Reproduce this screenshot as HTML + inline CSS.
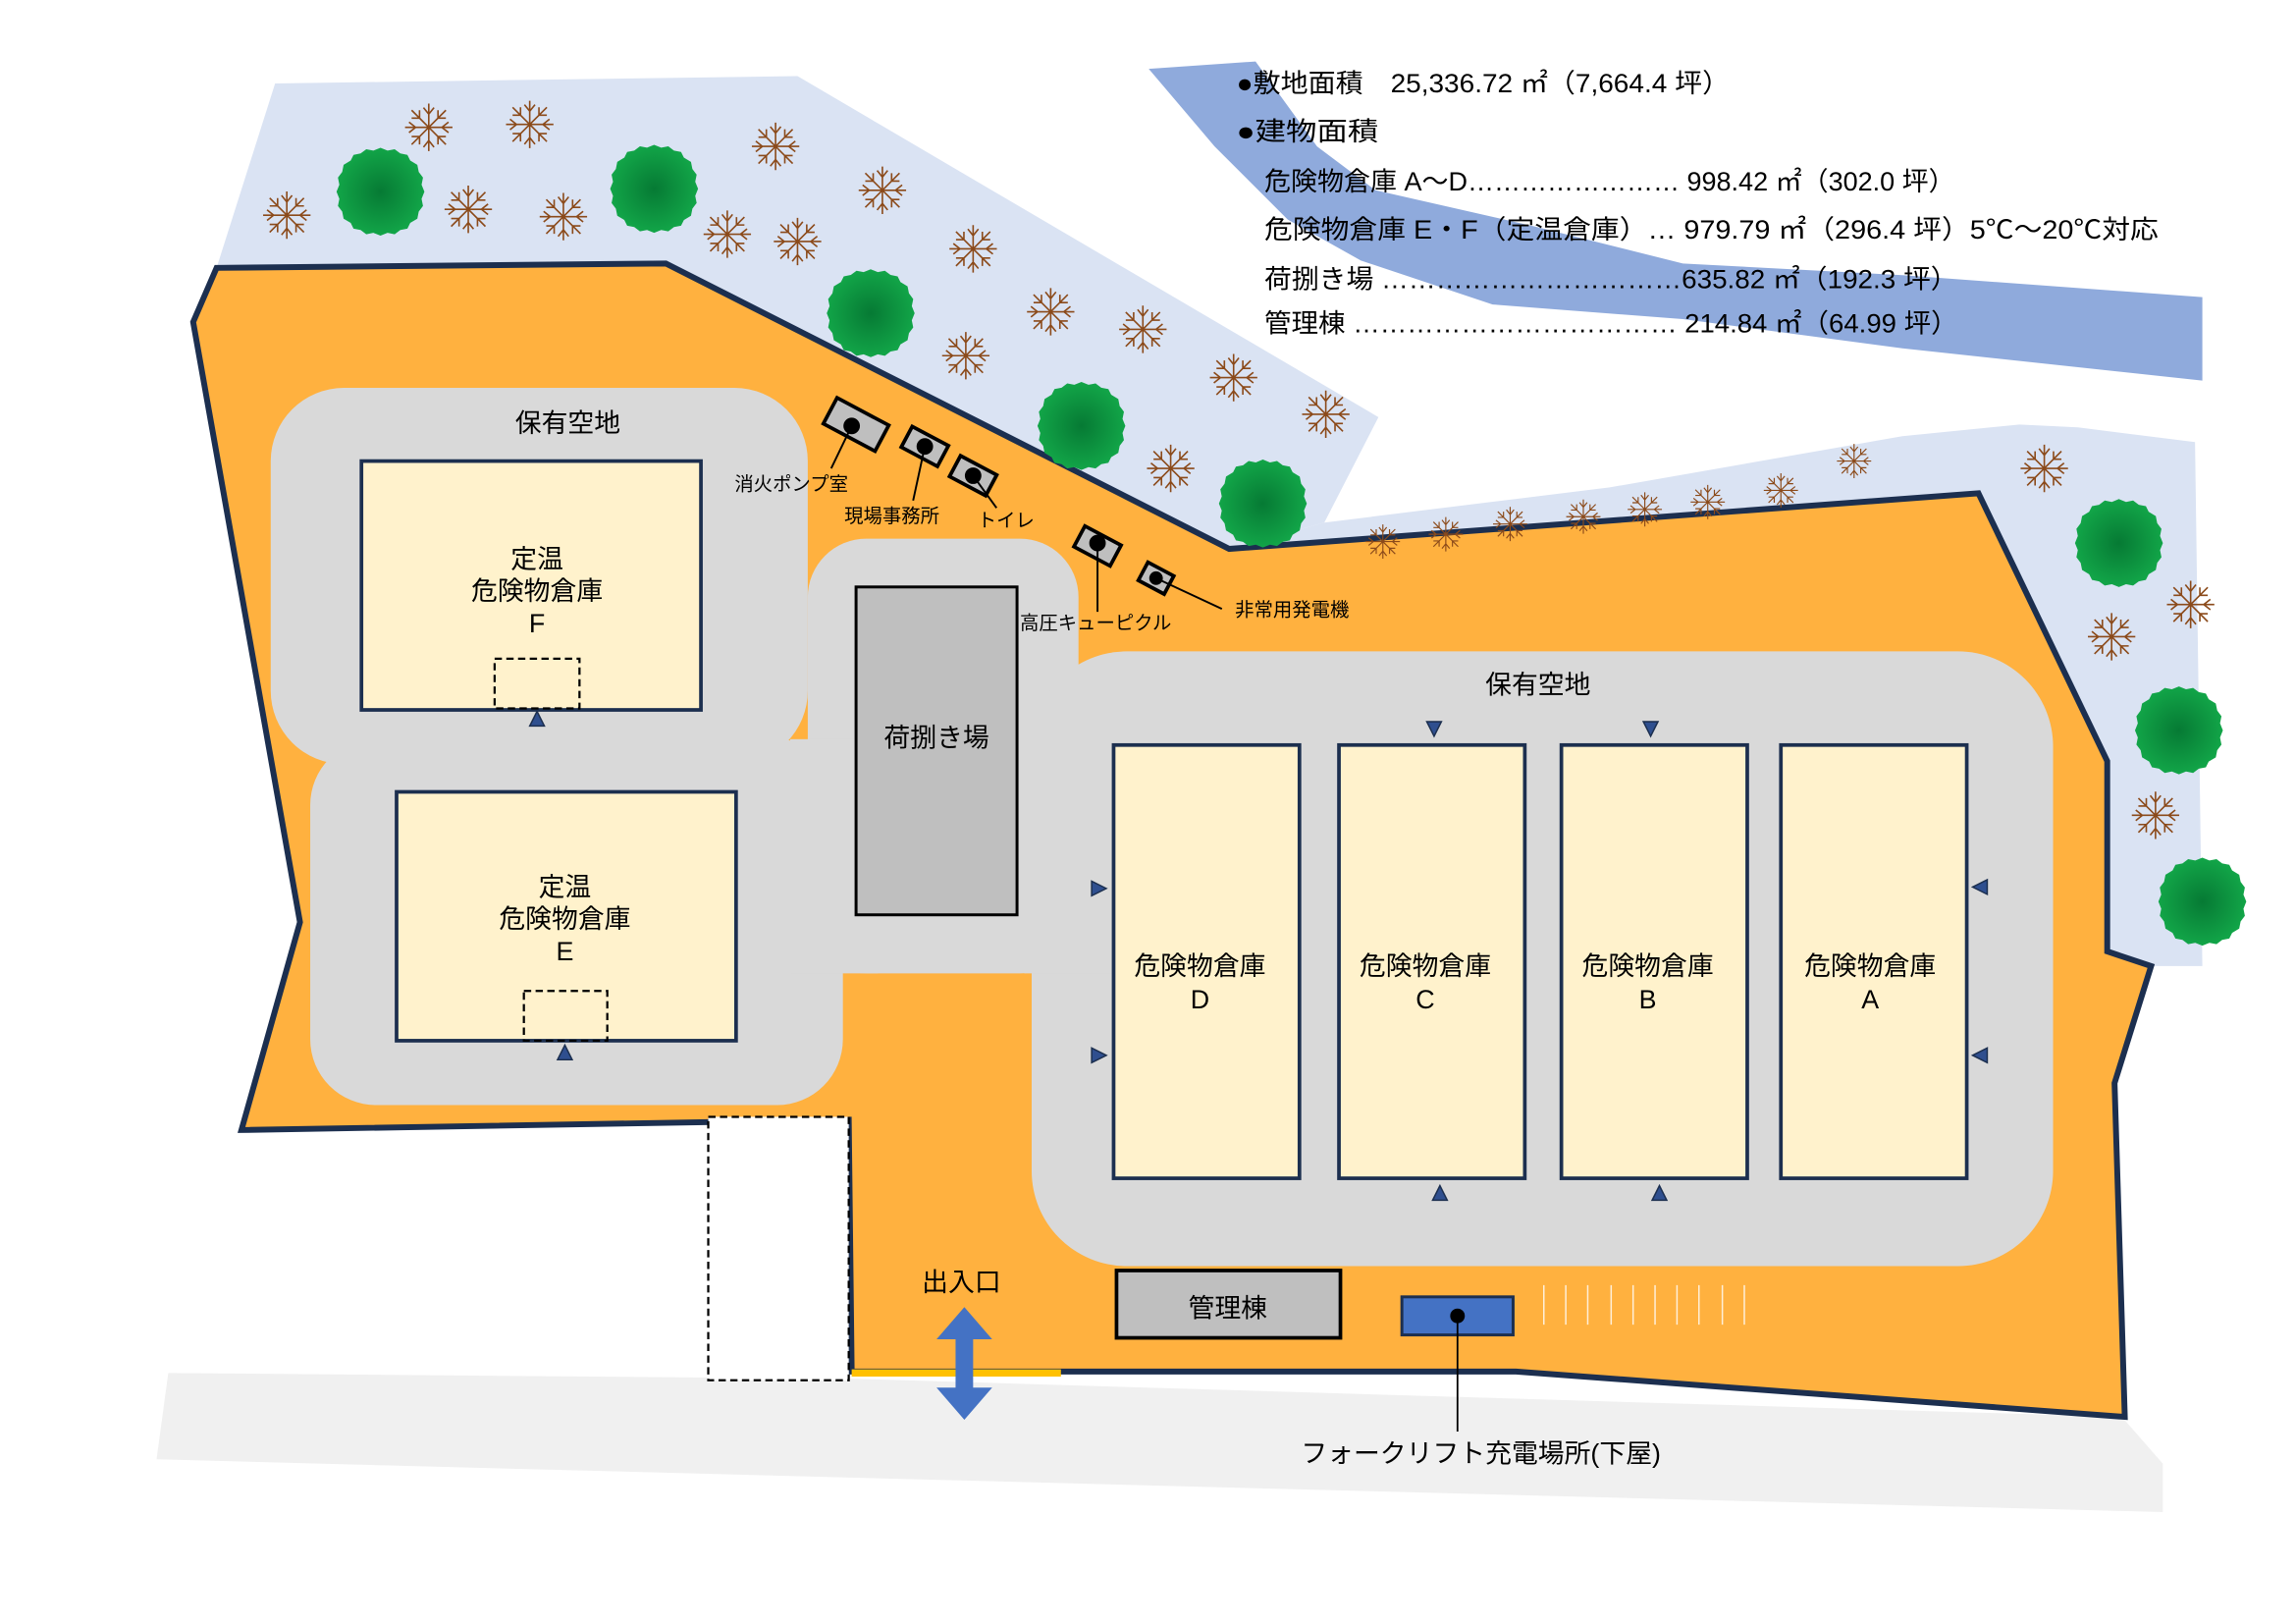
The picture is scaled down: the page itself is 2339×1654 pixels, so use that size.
<!DOCTYPE html>
<html><head><meta charset="utf-8"><style>
html,body{margin:0;padding:0;background:#fff;}
svg{display:block;}
text{font-family:"Liberation Sans","Noto Sans CJK JP",sans-serif;fill:#000;}
</style></head><body>
<svg width="2339" height="1654" viewBox="0 0 1569 1109.5" preserveAspectRatio="none" xmlns="http://www.w3.org/2000/svg">
<defs>
<radialGradient id="tg"><stop offset="0" stop-color="#067a34"/><stop offset="1" stop-color="#12a548"/></radialGradient>
<symbol id="sf" viewBox="-20 -20 40 40" overflow="visible">
<g stroke="#8b4a1a" stroke-width="1.2" fill="none">
<path d="M0-18V18M-18 0H18M-13-13L13 13M-13 13L13-13M0-10l-4-5M0-10l4-5M0 10l-4 5M0 10l4 5M-10 0l-5-4M-10 0l-5 4M10 0l5-4M10 0l5 4M-7-7l-6 0M-7-7l0-6M7 7l6 0M7 7l0 6M7-7l6 0M7-7l0-6M-7 7l-6 0M-7 7l0 6"/>
</g></symbol>
<symbol id="tr" viewBox="-32 -32 64 64" overflow="visible">
<path d="M0-31 5-29 10-30 14-27 19-26 21-22 26-19 27-14 30-10 29-5 31 0 29 5 30 10 27 14 26 19 21 22 19 26 14 27 10 30 5 29 0 31-5 29-10 30-14 27-19 26-21 22-26 19-27 14-30 10-29 5-31 0-29-5-30-10-27-14-26-19-21-22-19-26-14-27-10-30-5-29Z" fill="url(#tg)"/>
</symbol>
</defs>
<polygon points="115,938 585,942 1450,968 1478,1000 1478,1033 107,997" fill="#f0f0f0"/>
<polygon points="188,57 545,52 942,285 905,357 840,375 455,180 148,183" fill="#dae3f3"/>
<polygon points="905,357 1100,333 1300,298 1380,290 1420,292 1500,302 1505,660 1470,660 1440,650 1440,520 1352,337 840,375" fill="#dae3f3"/>
<polygon points="785,47 858,42 900,100 940,130 1050,155 1150,180 1300,188 1505,203 1505,260 1300,238 1150,218 1020,208 930,178 880,150 830,100" fill="#8faadc"/>
<polygon points="148,183 455,180 840,375 1352,337 1440,520 1440,650 1470,660 1445,740 1452,968 1036,937 725,937 582,937 580,765 165,772 205,630 132,220" fill="#ffb13f" stroke="#1c2f4f" stroke-width="4" stroke-linejoin="miter"/>
<rect x="484" y="763" width="96" height="180" fill="#fff" stroke="#000" stroke-width="1.5" stroke-dasharray="5,3"/>
<line x1="582" y1="938" x2="725" y2="938" stroke="#ffc000" stroke-width="5"/>
<g fill="#d9d9d9">
<rect x="185" y="265" width="367" height="257" rx="50"/>
<rect x="212" y="505" width="364" height="250" rx="45"/>
<rect x="552" y="368" width="185" height="297" rx="40"/>
<rect x="540" y="505" width="60" height="160"/>
<rect x="705" y="445" width="698" height="420" rx="65"/>
<rect x="700" y="560" width="60" height="105"/>
</g>
<g>
<use href="#tr" x="229" y="99" width="62" height="64"/>
<use href="#tr" x="416" y="97" width="62" height="64"/>
<use href="#tr" x="564" y="182" width="62" height="64"/>
<use href="#tr" x="708" y="259" width="62" height="64"/>
<use href="#tr" x="832" y="312" width="62" height="64"/>
<use href="#tr" x="1417" y="339" width="62" height="64"/>
<use href="#tr" x="1458" y="467" width="62" height="64"/>
<use href="#tr" x="1474" y="584" width="62" height="64"/>
</g>
<g>
<use href="#sf" x="178" y="129" width="36" height="36"/>
<use href="#sf" x="275" y="69" width="36" height="36"/>
<use href="#sf" x="344" y="67" width="36" height="36"/>
<use href="#sf" x="302" y="125" width="36" height="36"/>
<use href="#sf" x="367" y="130" width="36" height="36"/>
<use href="#sf" x="479" y="142" width="36" height="36"/>
<use href="#sf" x="512" y="82" width="36" height="36"/>
<use href="#sf" x="527" y="147" width="36" height="36"/>
<use href="#sf" x="585" y="112" width="36" height="36"/>
<use href="#sf" x="647" y="152" width="36" height="36"/>
<use href="#sf" x="700" y="195" width="36" height="36"/>
<use href="#sf" x="642" y="225" width="36" height="36"/>
<use href="#sf" x="763" y="207" width="36" height="36"/>
<use href="#sf" x="825" y="240" width="36" height="36"/>
<use href="#sf" x="888" y="265" width="36" height="36"/>
<use href="#sf" x="782" y="302" width="36" height="36"/>
<use href="#sf" x="932" y="357" width="26" height="26"/>
<use href="#sf" x="975" y="352" width="26" height="26"/>
<use href="#sf" x="1019" y="345" width="26" height="26"/>
<use href="#sf" x="1069" y="340" width="26" height="26"/>
<use href="#sf" x="1111" y="335" width="26" height="26"/>
<use href="#sf" x="1154" y="330" width="26" height="26"/>
<use href="#sf" x="1204" y="322" width="26" height="26"/>
<use href="#sf" x="1254" y="302" width="26" height="26"/>
<use href="#sf" x="1379" y="302" width="36" height="36"/>
<use href="#sf" x="1479" y="395" width="36" height="36"/>
<use href="#sf" x="1425" y="417" width="36" height="36"/>
<use href="#sf" x="1455" y="539" width="36" height="36"/>
</g>
<g fill="#fff2cc" stroke="#1c2f4f" stroke-width="2.5">
<rect x="247" y="315" width="232" height="170"/>
<rect x="271" y="541" width="232" height="170"/>
<rect x="761" y="509" width="127" height="296"/>
<rect x="915" y="509" width="127" height="296"/>
<rect x="1067" y="509" width="127" height="296"/>
<rect x="1217" y="509" width="127" height="296"/>
</g>
<g fill="none" stroke="#000" stroke-width="1.5" stroke-dasharray="5,3">
<rect x="338" y="450" width="58" height="34"/>
<rect x="358" y="677" width="57" height="34"/>
</g>
<rect x="585" y="401" width="110" height="224" fill="#bfbfbf" stroke="#000" stroke-width="2"/>
<rect x="763" y="868" width="153" height="46" fill="#bfbfbf" stroke="#000" stroke-width="2.5"/>
<rect x="958" y="886" width="76" height="26" fill="#4472c4" stroke="#1c2f4f" stroke-width="2"/>
<circle cx="996" cy="899" r="5" fill="#000"/>
<line x1="996" y1="899" x2="996" y2="978" stroke="#000" stroke-width="1.2"/>
<g stroke="#fff" stroke-width="1" opacity="0.8">
<line x1="1055" y1="878" x2="1055" y2="905"/><line x1="1070" y1="878" x2="1070" y2="905"/><line x1="1085" y1="878" x2="1085" y2="905"/><line x1="1101" y1="878" x2="1101" y2="905"/><line x1="1116" y1="878" x2="1116" y2="905"/><line x1="1131" y1="878" x2="1131" y2="905"/><line x1="1146" y1="878" x2="1146" y2="905"/><line x1="1161" y1="878" x2="1161" y2="905"/><line x1="1177" y1="878" x2="1177" y2="905"/><line x1="1192" y1="878" x2="1192" y2="905"/>
</g>
<polygon points="659,893 678,915 665,915 665,948 678,948 659,970 640,948 653,948 653,915 640,915" fill="#4472c4"/>
<g fill="#2f4f8f" stroke="#1c2f4f" stroke-width="1">
<polygon points="367,486 362,496 372,496"/>
<polygon points="386,714 381,724 391,724"/>
<polygon points="980,503 975,493 985,493"/>
<polygon points="1128,503 1123,493 1133,493"/>
<polygon points="984,810 979,820 989,820"/>
<polygon points="1134,810 1129,820 1139,820"/>
<polygon points="756,607 746,602 746,612"/>
<polygon points="756,721 746,716 746,726"/>
<polygon points="1348,606 1358,601 1358,611"/>
<polygon points="1348,721 1358,716 1358,726"/>
</g>
<g fill="#bfbfbf" stroke="#000" stroke-width="2.5">
<rect x="-20" y="-10" width="40" height="20" transform="translate(585,290) rotate(28)"/>
<rect x="-14" y="-8" width="28" height="16" transform="translate(632,305) rotate(28)"/>
<rect x="-14" y="-8" width="28" height="16" transform="translate(665,325) rotate(28)"/>
<rect x="-14" y="-8" width="28" height="16" transform="translate(750,373) rotate(28)"/>
<rect x="-10" y="-7" width="20" height="14" transform="translate(790,395) rotate(28)"/>
</g>
<g fill="#000" stroke="#000" stroke-width="1.3">
<circle cx="582" cy="291" r="5"/><line x1="582" y1="291" x2="568" y2="320"/>
<circle cx="632" cy="305" r="5"/><line x1="632" y1="305" x2="624" y2="342"/>
<circle cx="665" cy="325" r="5"/><line x1="665" y1="325" x2="681" y2="347"/>
<circle cx="750" cy="371" r="5"/><line x1="750" y1="371" x2="750" y2="418"/>
<circle cx="790" cy="395" r="4"/><line x1="790" y1="395" x2="835" y2="416"/>
</g>
<g font-size="13">
<text x="502" y="335">消火ポンプ室</text>
<text x="577" y="357">現場事務所</text>
<text x="668" y="360">トイレ</text>
<text x="697" y="430">高圧キューピクル</text>
<text x="844" y="421">非常用発電機</text>
</g>
<g font-size="18" text-anchor="middle">
<text x="388" y="295">保有空地</text>
<text x="1051" y="474">保有空地</text>
<text x="367" y="388">定温</text><text x="367" y="410">危険物倉庫</text><text x="367" y="432">F</text>
<text x="386" y="612">定温</text><text x="386" y="634">危険物倉庫</text><text x="386" y="656">E</text>
<text x="640" y="510">荷捌き場</text>
<text x="820" y="666">危険物倉庫</text><text x="820" y="689">D</text>
<text x="974" y="666">危険物倉庫</text><text x="974" y="689">C</text>
<text x="1126" y="666">危険物倉庫</text><text x="1126" y="689">B</text>
<text x="1278" y="666">危険物倉庫</text><text x="1278" y="689">A</text>
<text x="839" y="900">管理棟</text>
<text x="657" y="882">出入口</text>
<text x="1012" y="999">フォークリフト充電場所(下屋)</text>
</g>
<g font-size="18">
<text x="845" y="63" textLength="337" lengthAdjust="spacingAndGlyphs">●敷地面積　25,336.72 ㎡（7,664.4 坪）</text>
<text x="845" y="96" textLength="97" lengthAdjust="spacingAndGlyphs">●建物面積</text>
<text x="864" y="130" textLength="472" lengthAdjust="spacingAndGlyphs">危険物倉庫 A～D…………………… 998.42 ㎡（302.0 坪）</text>
<text x="864" y="163" textLength="611" lengthAdjust="spacingAndGlyphs">危険物倉庫 E・F（定温倉庫）… 979.79 ㎡（296.4 坪）5℃～20℃対応</text>
<text x="864" y="197" textLength="474" lengthAdjust="spacingAndGlyphs">荷捌き場 ……………………………635.82 ㎡（192.3 坪）</text>
<text x="864" y="227" textLength="474" lengthAdjust="spacingAndGlyphs">管理棟 ……………………………… 214.84 ㎡（64.99 坪）</text>
</g>
</svg>
</body></html>
